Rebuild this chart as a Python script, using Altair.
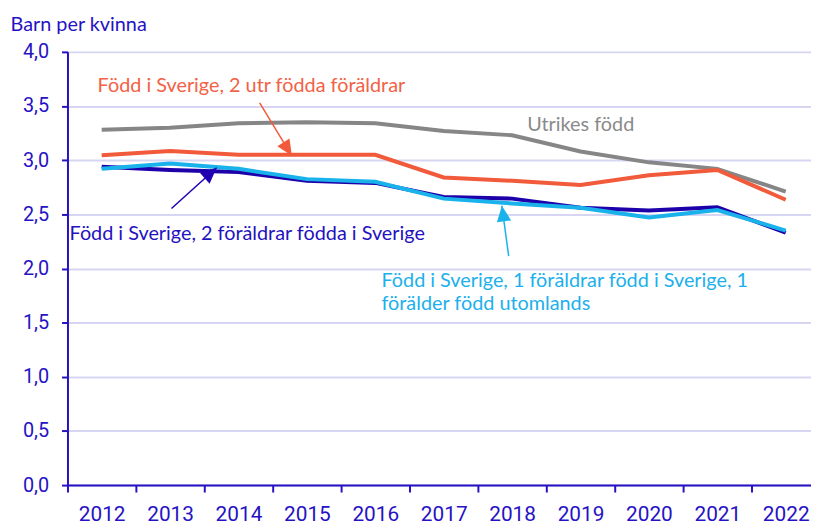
import altair as alt
import pandas as pd

# ---- data ----
years = [2012, 2013, 2014, 2015, 2016, 2017, 2018, 2019, 2020, 2021, 2022]
series_names = [
    "Född i Sverige, 2 föräldrar födda i Sverige",
    "Född i Sverige, 1 förälder född i Sverige, 1 förälder född utomlands",
    "Utrikes född",
    "Född i Sverige, 2 utr födda föräldrar",
]
two_swedish = [2.94, 2.91, 2.89, 2.81, 2.79, 2.66, 2.645, 2.56, 2.535, 2.565, 2.33]
one_swedish = [2.92, 2.97, 2.92, 2.825, 2.80, 2.645, 2.60, 2.56, 2.47, 2.54, 2.35]
foreign_born = [3.28, 3.30, 3.34, 3.35, 3.34, 3.27, 3.23, 3.08, 2.98, 2.92, 2.71]
two_foreign = [3.045, 3.085, 3.05, 3.05, 3.05, 2.84, 2.81, 2.77, 2.86, 2.91, 2.635]
series_values = [two_swedish, one_swedish, foreign_born, two_foreign]
series_colors = ["#1e00aa", "#1ab2ea", "#868686", "#f15a3a"]

y_ticks = [0.0, 0.5, 1.0, 1.5, 2.0, 2.5, 3.0, 3.5, 4.0]
x_ticks = [y + 0.5 for y in [2011] + years[:-1]]  # boundaries between years

# annotations (data coordinates: year, value)
label_texts = [
    "Född i Sverige, 2 utr födda föräldrar",
    "Utrikes född",
    "Född i Sverige, 2 föräldrar födda i Sverige",
    "Född i Sverige, 1 föräldrar född i Sverige, 1",
    "förälder född utomlands",
]
label_x = [2011.94, 2018.22, 2011.53, 2016.09, 2016.09]
label_y = [3.63, 3.27, 2.26, 1.83, 1.62]
label_colors = ["#f26246", "#8a8a8a", "#2412c0", "#1cb0ec", "#1cb0ec"]

arrow_x = [2014.31, 2013.02, 2017.95]
arrow_y = [3.53, 2.554, 2.114]
arrow_x2 = [2014.78, 2013.68, 2017.85]
arrow_y2 = [3.04, 2.93, 2.58]
arrow_angle = [148, 48, 352]
arrow_colors = ["#f15a3a", "#2000b0", "#1ab2ea"]

AXIS_BLUE = "#2612c4"
GRID = "#d6d6f2"

W, H = 750, 437
PX_PER_YEAR = 69
x_scale = alt.Scale(domain=[2011.5, 2011.5 + W / PX_PER_YEAR], nice=False, zero=False)
y_scale = alt.Scale(domain=[0, 4], nice=False)

x_axis = alt.Axis(
    values=x_ticks + years,
    labelExpr="datum.value % 1 === 0 ? datum.value : ''",
    tickOpacity={"condition": {"test": "datum.value % 1 === 0", "value": 0}, "value": 1},
    tickSize=7, tickWidth=2, tickColor=AXIS_BLUE,
    domainColor=AXIS_BLUE, domainWidth=2,
    labelFont="Roboto", labelFontSize=21, labelColor=AXIS_BLUE,
    labelPadding=12, labelOverlap=False, labelFlush=False,
    grid=False, title=None,
)
y_axis = alt.Axis(
    values=y_ticks,
    labelExpr="replace(format(datum.value, '.1f'), '.', ',')",
    tickSize=6, tickWidth=2, tickColor=AXIS_BLUE,
    domainColor=AXIS_BLUE, domainWidth=2,
    labelFont="Roboto", labelFontSize=20, labelColor=AXIS_BLUE, labelPadding=13,
    grid=True, gridColor=GRID, gridWidth=2,
    title="Barn per kvinna", titleAngle=0, titleAlign="left", titleBaseline="alphabetic",
    titleX=-58, titleY=-22, titleFont="Lato", titleFontSize=20,
    titleFontWeight="normal", titleColor=AXIS_BLUE,
)


def X(field):
    return alt.X(field, type="quantitative", scale=x_scale, axis=x_axis)


def Y(field):
    return alt.Y(field, type="quantitative", scale=y_scale, axis=y_axis)


layers = []
for name, vals, col in zip(series_names, series_values, series_colors):
    df = pd.DataFrame({"year": years, "value": vals, "series": name})
    layers.append(
        alt.Chart(df).mark_line(strokeWidth=4, color=col).encode(x=X("year"), y=Y("value"))
    )

ann = pd.DataFrame({"text": label_texts, "x": label_x, "y": label_y, "color": label_colors})
layers.append(
    alt.Chart(ann).mark_text(align="left", baseline="alphabetic", font="Lato", fontSize=20).encode(
        x=X("x"), y=Y("y"), text="text:N", color=alt.Color("color:N", scale=None)
    )
)

arr = pd.DataFrame({
    "x": arrow_x, "y": arrow_y, "x2": arrow_x2, "y2": arrow_y2,
    "angle": arrow_angle, "color": arrow_colors,
})
layers.append(
    alt.Chart(arr).mark_rule(strokeWidth=1.5).encode(
        x=X("x"), y=Y("y"), x2="x2:Q", y2="y2:Q", color=alt.Color("color:N", scale=None)
    )
)
layers.append(
    alt.Chart(arr).mark_point(
        shape="M0,0L0.45,1L-0.45,1Z", filled=True, opacity=1, size=1024, strokeWidth=0
    ).encode(
        x=X("x2"), y=Y("y2"),
        angle=alt.Angle("angle:Q", scale=None),
        color=alt.Color("color:N", scale=None),
    )
)

chart = alt.layer(*layers).properties(
    width=W, height=H,
    autosize=alt.AutoSizeParams(type="none"),
    padding={"left": 60, "top": 42, "right": 0, "bottom": 38},
    background="white",
).configure_view(stroke=None)

chart.save("out.html", embed_options={"renderer": "svg", "actions": False})
